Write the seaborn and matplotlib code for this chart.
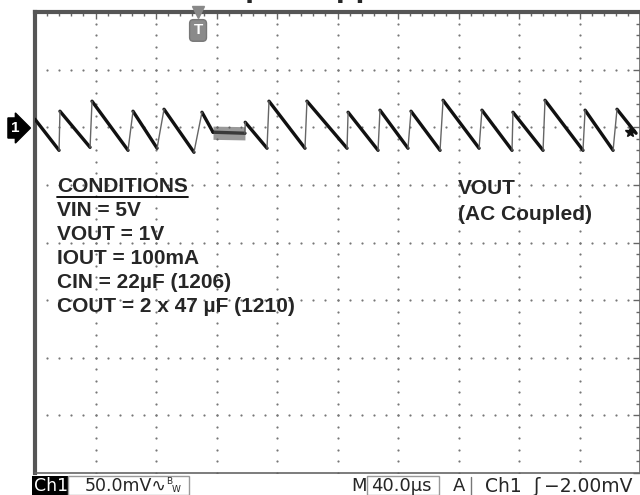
#scope capture: output ripple, redrawn with seaborn
import numpy as np
import pandas as pd
import seaborn as sns
from matplotlib import pyplot as plt
from matplotlib.lines import Line2D
from matplotlib.patches import Rectangle

#trace vertices (time in us, ch1 volts in mV, ground marker = 0)
t_us = [0.0, 15.9, 16.5, 36.4, 37.7, 61.5, 64.8, 80.7, 85.3, 105.1, 110.4, 117.7,
        138.8, 139.0, 153.4, 154.7, 178.5, 179.8, 206.3, 207.0, 226.8, 228.1, 246.6,
        248.6, 267.8, 269.8, 293.6, 295.5, 315.4, 316.0, 335.9, 337.2, 362.3, 363.7,
        382.2, 384.8, 397.4]
v_mv = [6.9, -20.0, 13.9, -17.4, 22.6, -20.0, 13.9, -18.2, 15.6, -21.7, 13.0, -4.3,
        -5.2, 4.3, -18.2, 22.6, -18.2, 22.6, -18.2, 13.0, -20.0, 14.8, -18.2,
        13.9, -20.0, 23.4, -18.2, 14.8, -20.0, 13.0, -20.0, 23.4, -20.0, 14.8,
        -20.0, 15.6, -5.2]

#noisy flat stretch after the load step
noise_t = [117.7, 138.8]
noise_lo = [-10.5, -11.0]
noise_hi = [1.0, 0.5]

trig_t = 107.8  # trigger position marker

cond_lines = ["CONDITIONS", "VIN = 5V", "VOUT = 1V", "IOUT = 100mA",
              "CIN = 22µF (1206)", "COUT = 2 x 47 µF (1210)"]
probe_lines = ["VOUT", "(AC Coupled)"]

W, H = 640, 495
def px(x, y):
    return x / W, 1 - y / H

sns.set_style("white")
plt.rcParams['font.family'] = ['Liberation Sans', 'DejaVu Sans']

fig = plt.figure(figsize=(6.4, 4.95), dpi=100)
ax = fig.add_axes([35 / W, 22 / H, 605 / W, 461 / H])
ax.set_xlim(0, 400)
ax.set_ylim(-300, 100)

#graticule
xmaj = np.arange(0, 401, 40)
ymaj = np.arange(-300, 101, 50)
xmin = np.arange(0, 401, 8)
ymin = np.arange(-300, 101, 10)
gx, gy = np.meshgrid(xmaj[1:-1], ymin)
ax.scatter(gx.ravel(), gy.ravel(), s=2.5, color='#777', linewidths=0, zorder=1)
gx, gy = np.meshgrid(xmin, ymaj[1:-1])
ax.scatter(gx.ravel(), gy.ravel(), s=2.5, color='#777', linewidths=0, zorder=1)

ax.set_xticks(xmaj)
ax.set_xticks(xmin, minor=True)
ax.set_yticks(ymaj)
ax.set_yticks(ymin, minor=True)
ax.tick_params(which='both', direction='in', top=True, right=True,
               labelbottom=False, labelleft=False, color='#666', width=1)
ax.tick_params(which='major', length=5)
ax.tick_params(which='minor', length=3)
for side, sp in ax.spines.items():
    sp.set_color('#666')
    sp.set_linewidth(1.2)
ax.spines['top'].set_linewidth(3)
ax.spines['left'].set_linewidth(3)
ax.spines['left'].set_color('#555')
ax.spines['top'].set_color('#555')

#trace: one unit per segment so the fast edges can be drawn thinner
rows = []
for i in range(len(t_us) - 1):
    kind = 'fall' if v_mv[i + 1] < v_mv[i] else 'rise'
    rows.append((i, t_us[i], v_mv[i], kind))
    rows.append((i, t_us[i + 1], v_mv[i + 1], kind))
df = pd.DataFrame(rows, columns=['seg', 't', 'v', 'kind'])

sns.lineplot(data=df, x='t', y='v', units='seg', estimator=None, sort=False,
             hue='kind', palette={'fall': '#111', 'rise': '#666'},
             size='kind', sizes={'fall': 2.4, 'rise': 1.0},
             legend=False, ax=ax, zorder=3)
ax.fill_between(noise_t, noise_lo, noise_hi, color='#555', alpha=0.6, lw=0, zorder=3)
ax.plot(t_us[-1] - 4, v_mv[-1] + 1, marker='*', ms=7, color='#111', zorder=4)
ax.set_xlabel("")
ax.set_ylabel("")

#trigger marker
ax.plot([trig_t], [100], marker='v', ms=8, color='#888', clip_on=False, zorder=5)
ax.text(trig_t, 84, "T", ha='center', va='center', color='white', fontsize=11,
        fontweight='bold', zorder=5,
        bbox=dict(boxstyle='round,pad=0.25', fc='#8a8a8a', ec='#777'))

#ch1 ground marker
fig.text(*px(11, 128), "1", ha='left', va='center', color='white', fontsize=11,
         fontweight='bold',
         bbox=dict(boxstyle='rarrow,pad=0.2', fc='black', ec='black'))

#clipped title
fig.text(190 / W, 1 + 3.7 / H, "Output Ripple", ha='left', va='baseline',
         fontsize=23, fontweight='bold')

#conditions block
cond_y = [186, 210, 235, 259, 283, 307]
txts = []
for s, y in zip(cond_lines, cond_y):
    txts.append(fig.text(*px(57, y), s, ha='left', va='center', fontsize=15,
                         fontweight='bold'))
for s, y in zip(probe_lines, [188, 214]):
    fig.text(*px(458, y), s, ha='left', va='center', fontsize=15, fontweight='bold')

fig.canvas.draw()
bb = txts[0].get_window_extent()
fig.add_artist(Line2D([bb.x0 / W, bb.x1 / W], [(bb.y0 - 1) / H] * 2,
                      color='black', lw=1.3))

#status bar
mono = ['DejaVu Sans', 'DejaVu Sans Mono']
fig.add_artist(Rectangle(px(32, 495), 36 / W, 19 / H, fc='black', ec='none'))
fig.text(*px(34, 486), "Ch1", color='white', fontsize=12.5, va='center', family=mono)
fig.add_artist(Rectangle(px(68, 495), 121 / W, 19 / H, fc='none', ec='#999', lw=1))
fig.text(*px(85, 486), "50.0mV∿", fontsize=12.5, va='center', family=mono)
fig.text(*px(166, 482), "B", fontsize=6.5, va='center', family=mono)
fig.text(*px(172, 489), "W", fontsize=6.5, va='center', family=mono)
fig.text(*px(351, 486), "M", fontsize=13, va='center', family=mono)
fig.add_artist(Rectangle(px(367, 495), 72 / W, 19 / H, fc='none', ec='#999', lw=1))
fig.text(*px(371, 486), "40.0µs", fontsize=13, va='center', family=mono)
fig.text(*px(453, 486), "A", fontsize=13, va='center', family=mono)
fig.add_artist(Line2D([471 / W] * 2, [0, 18 / H], color='#777', lw=1))
fig.text(*px(485, 486), "Ch1", fontsize=13.5, va='center', family=mono)
fig.text(*px(533, 486), "ʃ", fontsize=13.5, va='center', family=mono)
fig.text(*px(544, 486), "−2.00mV", fontsize=13.5, va='center', family=mono)

fig.savefig("out.png", dpi=100)
